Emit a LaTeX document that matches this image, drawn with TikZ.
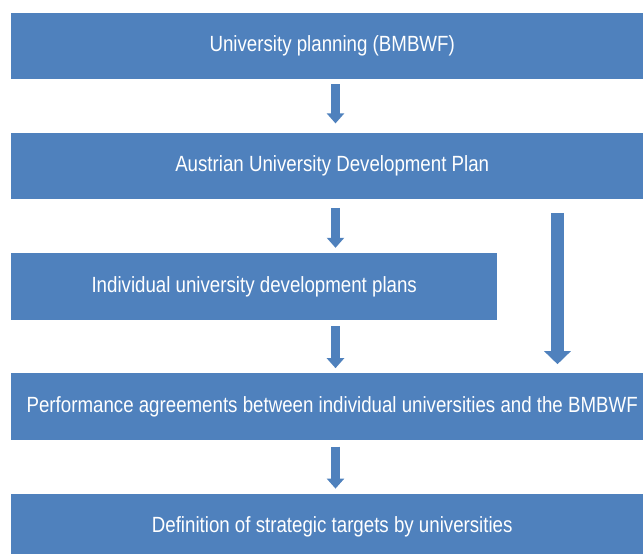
\documentclass[tikz,border=0pt]{standalone}
\usepackage{fontspec}
\usepackage{xcolor}
\usepackage{tikz}
\usetikzlibrary{arrows.meta,positioning,calc}
\newfontfamily\boxfont[FakeStretch=0.85]{Liberation Sans}
\definecolor{planblue}{HTML}{4F81BD}
\tikzset{
  stage/.style={fill=planblue, text=white, font=\boxfont\fontsize{22}{25}\selectfont, align=center, inner sep=0pt, minimum width=642pt, minimum height=66pt, anchor=north west},
  flowarrow/.style={draw=planblue, line width=9pt, -{Triangle[width=17pt, length=10pt]}},
  bigarrow/.style={draw=planblue, line width=13pt, -{Triangle[width=26pt, length=13pt]}}
}

\begin{document}
\begin{tikzpicture}[x=1pt, y=-1pt, node distance=53pt]
  \useasboundingbox (0,0) rectangle (643,554);
  \node[stage] (plan) at (11,13) {University planning (BMBWF)};
  \node[stage, below=of plan.south west, anchor=north west] (aup) {Austrian University Development Plan};
  \node[stage, below=54pt of aup.south west, anchor=north west, minimum width=486pt, minimum height=67pt] (udp) {Individual university development plans};
  \node[stage, below=of udp.south west, anchor=north west, minimum height=67pt] (perf) {Performance agreements between individual universities and the BMBWF};
  \node[stage, below=of perf.south west, anchor=north west] (targets) {Definition of strategic targets by universities};

  \coordinate (mid) at (335.5,0);
  \coordinate (side) at (557.5,0);

  \draw[flowarrow, shorten <=5pt, shorten >=9pt] (plan.south -| mid) -- (aup.north -| mid);
  \draw[flowarrow, shorten <=9pt, shorten >=5pt] (aup.south -| mid) -- (udp.north -| mid);
  \draw[flowarrow, shorten <=6pt, shorten >=5pt] (udp.south -| mid) -- (perf.north -| mid);
  \draw[flowarrow, shorten <=6pt, shorten >=5pt] (perf.south -| mid) -- (targets.north -| mid);
  \draw[bigarrow, shorten <=14pt, shorten >=9pt] (aup.south -| side) -- (perf.north -| side);
\end{tikzpicture}
\end{document}
